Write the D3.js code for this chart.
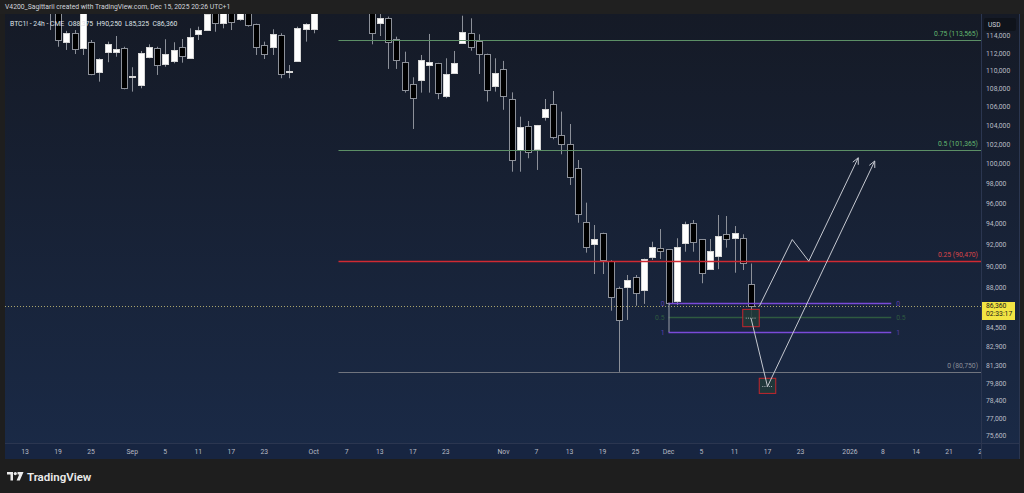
<!DOCTYPE html>
<html><head><meta charset="utf-8">
<script src="https://cdn.jsdelivr.net/npm/d3@7"></script>
<style>
html,body{margin:0;padding:0;background:#1e1e1e;}
svg{display:block;}
text{font-family:Roboto,"Noto Sans",sans-serif;}
</style></head><body>
<svg id="c" width="1024" height="493"></svg>
<script>
// ---------- DATA ----------
const holidays = ["2025-12-25","2026-01-01","2026-01-19"];
const calendarStart = "2025-08-08", calendarEnd = "2026-02-06";

// [date, open, high, low, close]
const candles = [
["2025-08-11",121500,122400,118500,118800],
["2025-08-12",118800,120800,118200,120300],
["2025-08-13",120300,124000,119800,123400],
["2025-08-14",123400,125500,118600,119000],
["2025-08-15",119000,119500,117100,117600],
["2025-08-18",117600,117900,114700,116800],
["2025-08-19",116800,117200,112750,113530],
["2025-08-20",113340,114600,112380,114390],
["2025-08-21",114320,114700,111910,112460],
["2025-08-22",112570,117400,111800,116900],
["2025-08-25",113300,113530,109500,109640],
["2025-08-26",109860,111420,108780,111300],
["2025-08-27",112100,113340,110970,113030],
["2025-08-28",112180,114000,111600,112450],
["2025-08-29",112640,112750,107930,108040],
["2025-09-01",109300,110400,107670,109380],
["2025-09-02",108400,112260,108040,111990],
["2025-09-03",111530,113030,111420,112750],
["2025-09-04",112570,112750,109530,110650],
["2025-09-05",110770,113620,110460,111910],
["2025-09-08",111150,113270,110850,112380],
["2025-09-09",112690,113650,110920,111680],
["2025-09-10",111490,114900,111400,113920],
["2025-09-11",114200,115100,113530,114700],
["2025-09-12",114700,116900,114650,116600],
["2025-09-15",116900,117300,114500,115500],
["2025-09-16",115570,117200,114900,116900],
["2025-09-17",117000,117800,114700,115680],
["2025-09-18",115970,118000,115800,117500],
["2025-09-19",117300,117600,115100,115300],
["2025-09-22",115380,115450,111800,112750],
["2025-09-23",112920,113340,111340,111880],
["2025-09-24",112750,114790,111800,114240],
["2025-09-25",114120,114320,109160,109640],
["2025-09-26",109850,110650,109160,109950],
["2025-09-29",111150,115100,111040,114980],
["2025-09-30",114820,115500,113340,115380],
["2025-10-01",114820,118500,114320,117800],
["2025-10-02",118000,121000,117800,120700],
["2025-10-03",120700,123000,120000,122300],
["2025-10-06",123500,126500,123000,125000],
["2025-10-07",125000,125500,121000,121500],
["2025-10-08",121500,124000,121000,123500],
["2025-10-09",123500,123800,120000,121000],
["2025-10-10",121000,122500,113030,114320],
["2025-10-13",115570,116600,114000,116170],
["2025-10-14",116090,116300,110210,113270],
["2025-10-15",113620,113920,110210,111230],
["2025-10-16",110970,112180,107560,107860],
["2025-10-17",108490,109270,103620,107000],
["2025-10-20",108930,111800,107560,111230],
["2025-10-21",110650,114240,107560,110990],
["2025-10-22",110840,110900,106840,107560],
["2025-10-23",107220,111420,106950,109640],
["2025-10-24",109790,112260,109640,110840],
["2025-10-27",113220,116400,113200,114470],
["2025-10-28",114320,116090,112290,112750],
["2025-10-29",113450,114200,109640,111880],
["2025-10-30",111880,111950,106580,107830],
["2025-10-31",108300,111420,107670,109720],
["2025-11-03",110240,111120,105680,107220],
["2025-11-04",106830,107590,99170,100370],
["2025-11-05",101410,104940,99170,103860],
["2025-11-06",103970,104470,100550,101230],
["2025-11-07",101510,104050,99350,104010],
["2025-11-10",104940,106860,104510,105770],
["2025-11-11",106280,107740,102530,102770],
["2025-11-12",103010,105480,100960,102000],
["2025-11-13",102000,104150,97830,98670],
["2025-11-14",99580,100370,94110,94960],
["2025-11-17",94210,96070,91260,91770],
["2025-11-18",92080,93890,89280,92550],
["2025-11-19",93100,93150,89280,90580],
["2025-11-20",90480,90550,85980,87230],
["2025-11-21",87980,88130,80750,85170],
["2025-11-24",88130,89190,85170,88740],
["2025-11-25",88980,89190,86420,87530],
["2025-11-26",87830,90700,86580,90670],
["2025-11-27",90830,92290,90580,91820],
["2025-11-28",91670,93500,90670,91430],
["2025-12-01",91580,91600,86490,86700],
["2025-12-02",86840,92620,86490,91820],
["2025-12-03",92200,94210,91350,93960],
["2025-12-04",94110,94370,91350,92290],
["2025-12-05",92520,92550,88440,89350],
["2025-12-08",89730,92550,89700,91440],
["2025-12-09",90980,94860,89730,92840],
["2025-12-10",93000,94760,91730,92520],
["2025-12-11",92620,93790,89400,93150],
["2025-12-12",92620,93000,89650,90270],
["2025-12-15",88375,90250,85325,86360]
];

// Big Fibonacci retracement
const fibStart = "2025-10-06";
const fibLevels = ["0.75","0.5","0.25","0"];
const fibPrices = [113565,101365,90470,80750];
const fibColors = ["#5c8f66","#5c8f66","#d02a32","#70747e"];
const fibTextColors = ["#63b86f","#63b86f","#d8454a","#8a8e98"];

// Small Fibonacci
const subFibDates = ["2025-12-01","2026-01-09"];
const subFibLevels = ["0","0.5","1"];
const subFibPrices = [86700,85410,84120];
const subFibColors = ["#7a4ad8","#2f5a40","#7a4ad8"];
const subFibTextColors = ["#5a3fb0","#2f5a40","#5a3fb0"];

// Target boxes: [fromDate, toDate, top, bottom, mid]
const boxes = [
 ["2025-12-12","2025-12-16",86100,84580,85325],
 ["2025-12-16","2025-12-18",80215,78980,79540]
];

// Projection paths
const pathA = [["2025-12-15",85325],["2025-12-17",79540],["2026-01-07",100270]];
const pathB = [["2025-12-16",86360],["2025-12-22",92500],["2025-12-24",90470],["2026-01-05",100600]];

const lastPrice = 86360;
const countdown = "02:33:17";

const yTicks = [114000,112000,110000,108000,106000,104000,102000,100000,98000,96000,94000,92000,90000,88000,84500,82900,81300,79800,78400,77000,75600];
const xTicks = [
["2025-08-13","13"],["2025-08-19","19"],["2025-08-25","25"],["2025-09-01","Sep"],["2025-09-05","5"],
["2025-09-11","11"],["2025-09-17","17"],["2025-09-23","23"],["2025-10-01","Oct"],["2025-10-07","7"],
["2025-10-13","13"],["2025-10-17","17"],["2025-10-23","23"],["2025-11-03","Nov"],["2025-11-07","7"],
["2025-11-13","13"],["2025-11-19","19"],["2025-11-25","25"],["2025-12-01","Dec"],["2025-12-05","5"],
["2025-12-11","11"],["2025-12-17","17"],["2025-12-23","23"],["2026-01-02","2026"],["2026-01-08","8"],
["2026-01-14","14"],["2026-01-21","21"],["2026-01-27","27"]
];

const headerText = "V4200_Sagittarii created with TradingView.com, Dec 15, 2025 20:26 UTC+1";
const symbolText = "BTC1! - 24h - CME";

// ---------- LAYOUT ----------
const PL = 5, PR = 981, PT = 14, PB = 443, AXR = 1019, XAB = 459;

function tradingDays(){
  const out=[]; let d=new Date(calendarStart+"T00:00:00Z"); const end=new Date(calendarEnd+"T00:00:00Z");
  while(d<=end){ const wd=d.getUTCDay(); const s=d.toISOString().slice(0,10);
    if(wd!==0&&wd!==6&&!holidays.includes(s)) out.push(s); d.setUTCDate(d.getUTCDate()+1);} return out;
}
const days = tradingDays();
const dayIndex = new Map(days.map((d,i)=>[d,i]));
const x = d3.scaleLinear().domain([dayIndex.get("2025-08-13"), dayIndex.get("2026-01-02")]).range([25,850]);
const xd = d => x(dayIndex.get(d));
const y = d3.scaleLog().domain([75600,114000]).range([436,36]);

const svg = d3.select("#c");
const defs = svg.append("defs");
const grad = defs.append("linearGradient").attr("id","bg").attr("x1",0).attr("y1",0).attr("x2",0).attr("y2",1);
grad.append("stop").attr("offset","0%").attr("stop-color","#151a26");
grad.append("stop").attr("offset","100%").attr("stop-color","#1a2a47");
defs.append("clipPath").attr("id","plot").append("rect").attr("x",PL).attr("y",PT).attr("width",PR-PL).attr("height",PB-PT);
defs.append("clipPath").attr("id","xax").append("rect").attr("x",PL).attr("y",PB).attr("width",PR-PL).attr("height",XAB-PB);

svg.append("rect").attr("width",1024).attr("height",493).attr("fill","#1e1e1e");
svg.append("rect").attr("x",0).attr("y",0).attr("width",1024).attr("height",PT).attr("fill","#202020");
svg.append("rect").attr("x",PL).attr("y",PT).attr("width",AXR-PL).attr("height",XAB-PT).attr("fill","url(#bg)");
svg.append("rect").attr("x",PL).attr("y",PB).attr("width",AXR-PL).attr("height",XAB-PB).attr("fill","#172541");
svg.append("line").attr("x1",PL).attr("x2",AXR).attr("y1",PB+0.5).attr("y2",PB+0.5).attr("stroke","#2b3650");
svg.append("line").attr("x1",PR+0.5).attr("x2",PR+0.5).attr("y1",PT).attr("y2",XAB).attr("stroke","#2b3650");
svg.append("line").attr("x1",AXR+0.5).attr("x2",AXR+0.5).attr("y1",PT).attr("y2",XAB).attr("stroke","#2b3650");

const plot = svg.append("g").attr("clip-path","url(#plot)");

// candles
const cg = plot.append("g");
candles.forEach(c=>{
  const [d,o,h,l,cl] = c;
  const cx = Math.round(xd(d));
  const up = cl>=o;
  cg.append("line").attr("x1",cx+0.5).attr("x2",cx+0.5).attr("y1",y(h)).attr("y2",y(l))
    .attr("stroke","#8c9099").attr("stroke-width",1);
  const yt = Math.round(y(Math.max(o,cl))), yb = Math.round(y(Math.min(o,cl)));
  cg.append("rect").attr("x",cx-2.5).attr("y",yt+0.5).attr("width",6).attr("height",Math.max(1,yb-yt))
    .attr("fill",up?"#ffffff":"#000000").attr("stroke",up?"#d6d6d6":"#8c9099").attr("stroke-width",1);
});

// big fib
const fx1 = xd(fibStart);
fibLevels.forEach((lv,i)=>{
  const yy = Math.round(y(fibPrices[i]))+0.5;
  plot.append("line").attr("x1",fx1).attr("x2",PR).attr("y1",yy).attr("y2",yy)
    .attr("stroke",fibColors[i]).attr("stroke-width",i===2?1.5:1.1);
  svg.append("text").attr("x",978).attr("y",yy-5).attr("text-anchor","end")
    .attr("font-size",6.8).attr("fill",fibTextColors[i])
    .text(`${lv} (${d3.format(",")(fibPrices[i])})`);
});

// current price dotted line
const ly = Math.round(y(lastPrice))+0.5;
plot.append("line").attr("x1",PL).attr("x2",PR).attr("y1",ly).attr("y2",ly)
  .attr("stroke","#a9a46c").attr("stroke-width",1).attr("stroke-dasharray","1,2");

// small fib
const sx1 = xd(subFibDates[0]), sx2 = xd(subFibDates[1]);
subFibLevels.forEach((lv,i)=>{
  const yy = Math.round(y(subFibPrices[i]))+0.5;
  plot.append("line").attr("x1",sx1).attr("x2",sx2).attr("y1",yy).attr("y2",yy)
    .attr("stroke",subFibColors[i]).attr("stroke-width",1.4);
  svg.append("text").attr("x",sx1-4).attr("y",yy).attr("dy","0.35em").attr("text-anchor","end")
    .attr("font-size",6.8).attr("fill",subFibTextColors[i]).text(lv);
  svg.append("text").attr("x",sx2+5).attr("y",yy).attr("dy","0.35em").attr("text-anchor","start")
    .attr("font-size",6.8).attr("fill",subFibTextColors[i]).text(lv);
});
plot.append("line").attr("x1",sx1+0.5).attr("x2",sx1+0.5)
  .attr("y1",y(subFibPrices[0])).attr("y2",y(subFibPrices[2])).attr("stroke","#9a9ea8").attr("stroke-width",1);

// boxes
boxes.forEach(b=>{
  const [d1,d2,pt,pb,pm] = b;
  const bx1 = xd(d1), bx2 = xd(d2);
  plot.append("rect").attr("x",bx1).attr("y",y(pt)).attr("width",bx2-bx1).attr("height",y(pb)-y(pt))
    .attr("fill","#223b38").attr("fill-opacity",0.85).attr("stroke","#c3262d").attr("stroke-width",1);
  plot.append("line").attr("x1",bx1+3).attr("x2",bx2-3).attr("y1",y(pm)).attr("y2",y(pm))
    .attr("stroke","#cfd2d8").attr("stroke-width",0.8).attr("stroke-dasharray","1,1.2");
});

// paths with arrowheads
const line = d3.line().x(p=>xd(p[0])).y(p=>y(p[1]));
[pathA,pathB].forEach(pth=>{
  plot.append("path").attr("d",line(pth)).attr("fill","none").attr("stroke","#c5c8d0").attr("stroke-width",1);
  const a = pth[pth.length-2], b = pth[pth.length-1];
  const ax = xd(a[0]), ay = y(a[1]), bx = xd(b[0]), by = y(b[1]);
  const ang = Math.atan2(by-ay, bx-ax), L = 7, sp = 0.45;
  const pts = [[bx - L*Math.cos(ang-sp), by - L*Math.sin(ang-sp)],[bx,by],[bx - L*Math.cos(ang+sp), by - L*Math.sin(ang+sp)]];
  plot.append("path").attr("d",d3.line()(pts)).attr("fill","none").attr("stroke","#c5c8d0").attr("stroke-width",1);
});

// price axis
svg.append("g").selectAll("text").data(yTicks).join("text")
  .attr("x",986).attr("y",d=>y(d)).attr("dy","0.35em").attr("font-size",6.8).attr("fill","#b8bbc4")
  .text(d=>d3.format(",")(d));
svg.append("rect").attr("x",984).attr("y",18).attr("width",32).attr("height",13).attr("rx",2).attr("fill","#0f131b");
svg.append("text").attr("x",988).attr("y",24.5).attr("dy","0.35em").attr("font-size",6.6).attr("fill","#d1d4dc").text("USD");
// last price label
svg.append("rect").attr("x",982).attr("y",ly-4.5).attr("width",33).attr("height",18).attr("fill","#f2e443");
svg.append("text").attr("x",986).attr("y",ly-0.5).attr("dy","0.35em").attr("font-size",6.8).attr("fill","#1a1a1a").text(d3.format(",")(lastPrice));
svg.append("text").attr("x",986).attr("y",ly+7.5).attr("dy","0.35em").attr("font-size",6.8).attr("fill","#1a1a1a").text(countdown);

// time axis
svg.append("g").attr("clip-path","url(#xax)").selectAll("text").data(xTicks).join("text")
  .attr("x",d=>xd(d[0])).attr("y",451.5).attr("dy","0.35em").attr("text-anchor","middle")
  .attr("font-size",6.8).attr("fill","#b8bbc4").text(d=>d[1]);

// header + legend
svg.append("text").attr("x",5).attr("y",7).attr("dy","0.35em").attr("font-size",6.8).attr("fill","#d1d4dc").text(headerText);
const last = candles[candles.length-1];
const leg = [[10,symbolText],[68,"O"+d3.format(",")(last[1])],[96.5,"H"+d3.format(",")(last[2])],[125,"L"+d3.format(",")(last[3])],[152.5,"C"+d3.format(",")(last[4])]];
leg.forEach(t=>svg.append("text").attr("x",t[0]).attr("y",23.5).attr("dy","0.35em").attr("font-size",6.8).attr("fill","#dfe1e6").text(t[1]));

// footer logo
const lg = svg.append("g").attr("fill","#ebebeb");
lg.append("path").attr("d","M7,472 H13 V480.5 H10.5 V474.5 H7 Z");
lg.append("circle").attr("cx",15.3).attr("cy",473.6).attr("r",1.6);
lg.append("path").attr("d","M17.5,472 H23.5 L19.8,480.5 H16.6 L19.2,474.6 H17.5 Z");
svg.append("text").attr("x",27).attr("y",480.5).attr("font-size",11.5).attr("font-weight",600)
  .attr("font-family","'Open Sans',sans-serif").attr("fill","#ebebeb").text("TradingView");
</script>
</body></html>
